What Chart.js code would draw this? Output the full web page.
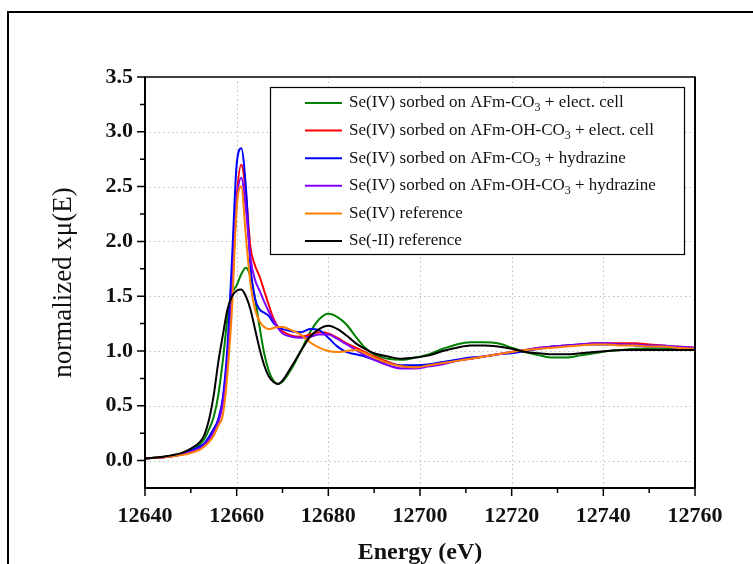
<!DOCTYPE html>
<html>
<head>
<meta charset="utf-8">
<script src="https://cdn.jsdelivr.net/npm/chart.js@4.4.0/dist/chart.umd.min.js"></script>
<style>
  html, body { margin: 0; padding: 0; background: #fff; }
  #wrap { width: 753px; height: 564px; }
</style>
</head>
<body>
<div id="wrap"><canvas id="xanes" width="753" height="564"></canvas></div>
<script>
// Energia (eV)
const energy = [12640, 12644, 12648, 12650, 12652, 12653, 12654, 12655, 12656, 12657, 12658, 12659,
  12660, 12661, 12662, 12663, 12664, 12665, 12666, 12667, 12668, 12669, 12670, 12672, 12674, 12676,
  12678, 12680, 12682, 12684, 12686, 12688, 12690, 12693, 12696, 12699, 12702, 12705, 12708, 12711,
  12714, 12717, 12720, 12723, 12726, 12729, 12732, 12735, 12738, 12741, 12744, 12747, 12750, 12753,
  12756, 12760];

const afmCO3Cell = [0.02, 0.035, 0.065, 0.10, 0.15, 0.20, 0.29, 0.40, 0.60, 0.92, 1.30, 1.52,
  1.60, 1.70, 1.76, 1.68, 1.48, 1.22, 0.98, 0.82, 0.73, 0.70, 0.72, 0.84, 1.00, 1.17,
  1.29, 1.34, 1.31, 1.24, 1.13, 1.03, 0.97, 0.93, 0.92, 0.94, 0.97, 1.02, 1.06, 1.08,
  1.08, 1.07, 1.03, 0.99, 0.96, 0.94, 0.94, 0.96, 0.98, 1.00, 1.01, 1.02, 1.02, 1.02,
  1.02, 1.01];

const afmOHCO3Cell = [0.02, 0.03, 0.055, 0.08, 0.12, 0.15, 0.20, 0.27, 0.37, 0.55, 0.95, 1.60,
  2.40, 2.70, 2.45, 1.95, 1.78, 1.68, 1.55, 1.42, 1.30, 1.22, 1.18, 1.14, 1.13, 1.15,
  1.17, 1.16, 1.12, 1.07, 1.03, 0.99, 0.95, 0.90, 0.86, 0.85, 0.87, 0.89, 0.91, 0.93,
  0.95, 0.97, 0.99, 1.01, 1.03, 1.04, 1.05, 1.06, 1.07, 1.07, 1.07, 1.07, 1.06, 1.05,
  1.04, 1.03];

const afmCO3Hydr = [0.02, 0.03, 0.06, 0.09, 0.13, 0.16, 0.22, 0.29, 0.38, 0.58, 1.05, 1.85,
  2.70, 2.85, 2.50, 1.78, 1.48, 1.38, 1.35, 1.32, 1.26, 1.22, 1.20, 1.18, 1.17, 1.20,
  1.19, 1.12, 1.04, 0.99, 0.97, 0.95, 0.92, 0.89, 0.87, 0.87, 0.88, 0.90, 0.92, 0.94,
  0.95, 0.97, 0.98, 1.00, 1.02, 1.04, 1.05, 1.06, 1.06, 1.06, 1.06, 1.05, 1.04, 1.04,
  1.03, 1.02];

const afmOHCO3Hydr = [0.02, 0.03, 0.055, 0.08, 0.115, 0.145, 0.19, 0.26, 0.35, 0.52, 0.90, 1.55,
  2.35, 2.58, 2.30, 1.85, 1.65, 1.55, 1.45, 1.36, 1.28, 1.21, 1.16, 1.13, 1.12, 1.13,
  1.15, 1.15, 1.11, 1.06, 1.01, 0.96, 0.92, 0.87, 0.84, 0.84, 0.86, 0.88, 0.91, 0.93,
  0.95, 0.97, 0.99, 1.01, 1.03, 1.04, 1.05, 1.06, 1.07, 1.07, 1.06, 1.06, 1.05, 1.05,
  1.04, 1.03];

const seIVRef = [0.02, 0.03, 0.05, 0.07, 0.10, 0.13, 0.17, 0.23, 0.32, 0.42, 0.80, 1.40,
  2.30, 2.50, 2.05, 1.62, 1.38, 1.27, 1.22, 1.20, 1.21, 1.22, 1.22, 1.19, 1.15, 1.08,
  1.03, 1.00, 0.99, 1.00, 1.01, 0.98, 0.94, 0.89, 0.86, 0.85, 0.87, 0.89, 0.91, 0.93,
  0.95, 0.97, 0.99, 1.01, 1.02, 1.03, 1.04, 1.05, 1.06, 1.06, 1.05, 1.05, 1.04, 1.04,
  1.03, 1.02];

const seMinusIIRef = [0.02, 0.035, 0.07, 0.11, 0.17, 0.24, 0.38, 0.60, 0.90, 1.15, 1.38, 1.50,
  1.55, 1.56, 1.50, 1.38, 1.20, 1.02, 0.87, 0.77, 0.72, 0.70, 0.73, 0.86, 1.00, 1.13,
  1.20, 1.23, 1.20, 1.14, 1.07, 1.02, 0.98, 0.95, 0.93, 0.94, 0.96, 1.00, 1.03, 1.05,
  1.05, 1.04, 1.02, 0.99, 0.98, 0.97, 0.97, 0.98, 0.99, 1.00, 1.01, 1.01, 1.01, 1.01,
  1.01, 1.01];

const seriesLabels = [
  "Se(IV) sorbed on AFm-CO₃ + elect. cell",
  "Se(IV) sorbed on AFm-OH-CO₃ + elect. cell",
  "Se(IV) sorbed on AFm-CO₃ + hydrazine",
  "Se(IV) sorbed on AFm-OH-CO₃ + hydrazine",
  "Se(IV) reference",
  "Se(-II) reference"
];
const seriesColors = ["#008000", "#ff0000", "#0000ff", "#8000ff", "#ff8000", "#000000"];

const xTicks = [12640, 12660, 12680, 12700, 12720, 12740, 12760];
const yTicks = [0.0, 0.5, 1.0, 1.5, 2.0, 2.5, 3.0, 3.5];

const serif = "'Liberation Serif', 'Times New Roman', serif";
const allSeries = [afmCO3Cell, afmOHCO3Cell, afmCO3Hydr, afmOHCO3Hydr, seIVRef, seMinusIIRef];

const datasets = allSeries.map((vals, i) => ({
  label: seriesLabels[i],
  data: vals.map((v, k) => ({ x: energy[k], y: v })),
  borderColor: seriesColors[i],
  backgroundColor: seriesColors[i],
  borderWidth: 2,
  pointRadius: 0,
  tension: 0.4,
  cubicInterpolationMode: "monotone",
  order: 6 - i
}));

// marco, rejilla, ticks y leyenda
const decor = {
  id: "decor",
  beforeDatasetsDraw(chart) {
    const { ctx, chartArea: a, scales: { x, y } } = chart;
    ctx.save();
    ctx.strokeStyle = "#c0c0c0";
    ctx.lineWidth = 1;
    ctx.setLineDash([1.5, 3]);
    xTicks.slice(1, -1).forEach(t => {
      const px = Math.round(x.getPixelForValue(t)) + 0.5;
      ctx.beginPath(); ctx.moveTo(px, a.top); ctx.lineTo(px, a.bottom); ctx.stroke();
    });
    yTicks.forEach(t => {
      const py = Math.round(y.getPixelForValue(t)) + 0.5;
      if (py <= a.top + 1) return;
      ctx.beginPath(); ctx.moveTo(a.left, py); ctx.lineTo(a.right, py); ctx.stroke();
    });
    ctx.restore();
  },
  afterDraw(chart) {
    const { ctx, chartArea: a, scales: { x, y } } = chart;
    ctx.save();
    ctx.strokeStyle = "#000";
    // marco exterior
    ctx.lineWidth = 2;
    ctx.strokeRect(8, 12, 900, 700);
    // borde del area
    ctx.lineWidth = 1.5;
    ctx.strokeRect(a.left, a.top, a.right - a.left, a.bottom - a.top);
    ctx.lineWidth = 2;
    ctx.beginPath();
    ctx.moveTo(a.left, a.top); ctx.lineTo(a.left, a.bottom); ctx.lineTo(a.right, a.bottom);
    ctx.moveTo(a.right, a.top); ctx.lineTo(a.right, a.bottom);
    ctx.stroke();
    // ticks
    ctx.lineWidth = 1.5;
    ctx.beginPath();
    for (let i = 0; i < xTicks.length; i++) {
      const px = x.getPixelForValue(xTicks[i]);
      ctx.moveTo(px, a.bottom); ctx.lineTo(px, a.bottom + 8);
      if (i < xTicks.length - 1) {
        const pm = x.getPixelForValue((xTicks[i] + xTicks[i + 1]) / 2);
        ctx.moveTo(pm, a.bottom); ctx.lineTo(pm, a.bottom + 5);
      }
    }
    for (let i = 0; i < yTicks.length; i++) {
      const py = y.getPixelForValue(yTicks[i]);
      ctx.moveTo(a.left, py); ctx.lineTo(a.left - 8, py);
      if (i < yTicks.length - 1) {
        const pm = y.getPixelForValue((yTicks[i] + yTicks[i + 1]) / 2);
        ctx.moveTo(a.left, pm); ctx.lineTo(a.left - 5, pm);
      }
    }
    ctx.stroke();

    // leyenda
    const bx = 270, by = 87, bw = 414, bh = 167;
    ctx.fillStyle = "#fff";
    ctx.fillRect(bx, by, bw, bh);
    ctx.lineWidth = 1.2;
    ctx.strokeRect(bx + 0.5, by + 0.5, bw, bh);
    const rowH = 27.6;
    chart.data.datasets.forEach((ds, i) => {
      const cy = 103 + i * rowH;
      ctx.strokeStyle = ds.borderColor;
      ctx.lineWidth = 2;
      ctx.beginPath(); ctx.moveTo(305, cy); ctx.lineTo(342, cy); ctx.stroke();
      ctx.fillStyle = "#111";
      ctx.textBaseline = "middle";
      let tx = 349;
      ds.label.split(/(₃)/).forEach(part => {
        if (part === "₃") {
          ctx.font = "12px " + serif;
          ctx.fillText("3", tx, cy + 5);
          tx += ctx.measureText("3").width;
        } else if (part) {
          ctx.font = "17px " + serif;
          ctx.fillText(part, tx, cy);
          tx += ctx.measureText(part).width;
        }
      });
    });
    ctx.restore();
  }
};

new Chart(document.getElementById("xanes"), {
  type: "line",
  data: { datasets },
  options: {
    responsive: false,
    animation: false,
    layout: { padding: { left: 0, top: 77, right: 58, bottom: 0 } },
    plugins: { legend: { display: false }, tooltip: { enabled: false } },
    scales: {
      x: {
        type: "linear",
        min: 12640,
        max: 12760,
        afterFit: s => { s.height = 76; },
        afterBuildTicks: s => { s.ticks = xTicks.map(v => ({ value: v })); },
        grid: { display: false, drawTicks: true, tickLength: 8 },
        border: { display: false },
        ticks: {
          padding: 7,
          color: "#111",
          maxRotation: 0,
          font: { family: serif, size: 22, weight: "bold" },
          callback: v => String(v)
        },
        title: {
          display: true,
          text: "Energy (eV)",
          color: "#111",
          padding: { top: 0, bottom: -3 },
          font: { family: serif, size: 24, weight: "bold" }
        }
      },
      y: {
        min: -0.25,
        max: 3.5,
        afterFit: s => { s.width = 145; },
        afterBuildTicks: s => { s.ticks = yTicks.map(v => ({ value: v })); },
        grid: { display: false, drawTicks: true, tickLength: 8 },
        border: { display: false },
        ticks: {
          padding: 4,
          color: "#111",
          font: { family: serif, size: 22, weight: "bold" },
          callback: v => v.toFixed(1)
        },
        title: {
          display: true,
          text: "normalized xμ(E)",
          color: "#111",
          padding: { top: 48, bottom: 0 },
          font: { family: serif, size: 27 }
        }
      }
    }
  },
  plugins: [decor]
});
</script>
</body>
</html>
